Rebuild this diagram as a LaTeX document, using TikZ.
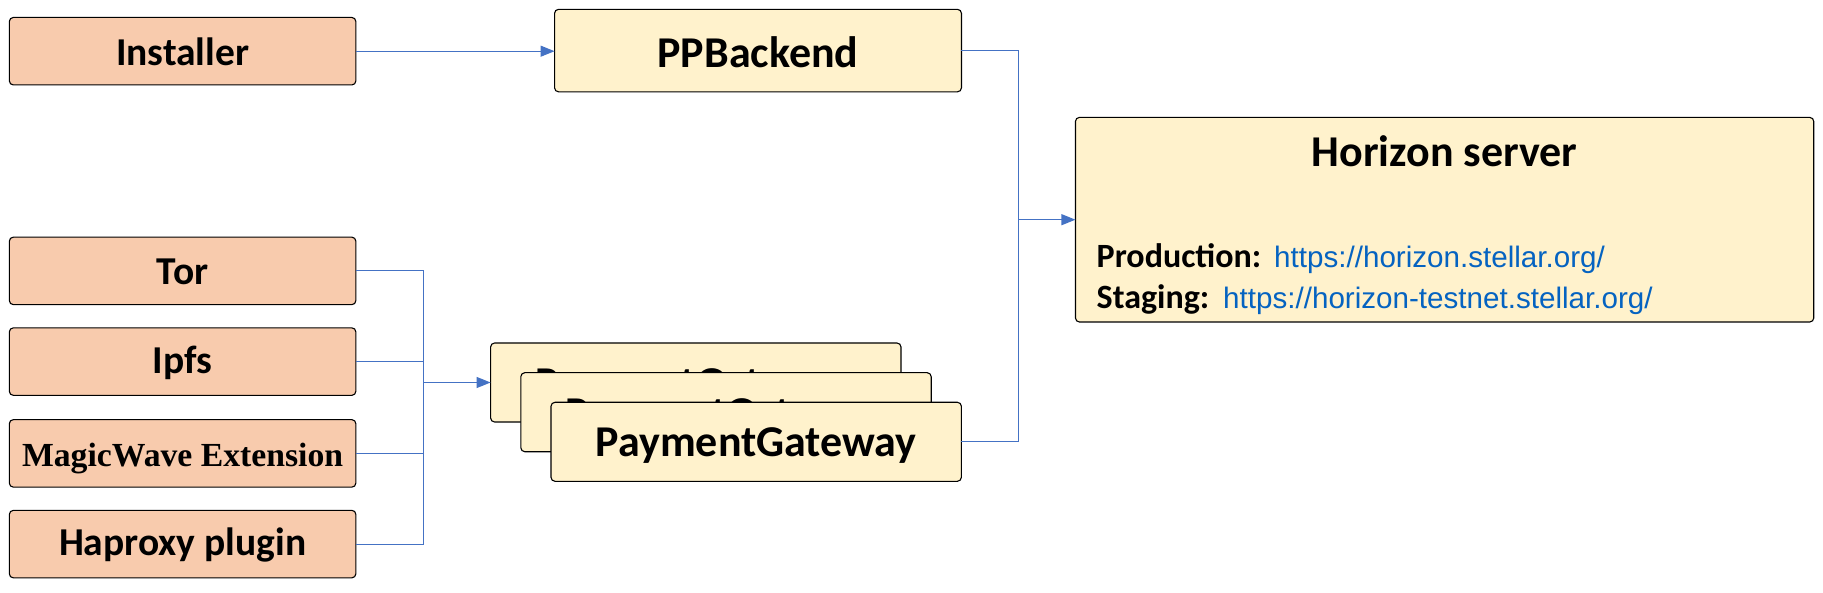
\documentclass[tikz,border=0pt]{standalone}
\usepackage{fontspec}
\setmainfont{Carlito}
\newfontfamily\timesfont{Liberation Serif}
\newfontfamily\arialfont{Liberation Sans}
\usetikzlibrary{arrows.meta}
\definecolor{orfill}{HTML}{F8CBAD}
\definecolor{yefill}{HTML}{FFF2CC}
\definecolor{connblue}{HTML}{4472C4}
\definecolor{urlc}{HTML}{0563C1}
\newcommand{\lowr}[2][4pt]{\raisebox{-#1}[\height][\depth]{#2}}
\begin{document}
\begin{tikzpicture}[x=1pt,y=-1pt,
 box/.style={draw=black, line width=1.1pt, rounded corners=4pt, inner sep=0pt, outer sep=0pt},
 orbox/.style={box, fill=orfill, minimum width=346.5pt, minimum height=67.5pt, font=\fontsize{39.5}{44}\selectfont\bfseries},
 yebox/.style={box, fill=yefill, font=\fontsize{44}{50}\selectfont\bfseries},
 pgbox/.style={yebox, minimum width=410.4pt, minimum height=79pt},
 conn/.style={draw=connblue, line width=1.1pt},
 arr/.style={conn, -{Triangle[length=14pt,width=11pt]}},
 lbl/.style={anchor=base west, inner sep=0pt, font=\fontsize{34}{40}\selectfont\bfseries},
 url/.style={anchor=base west, inner sep=0pt, text=urlc, font=\arialfont\fontsize{29.6}{34}\selectfont}]
\useasboundingbox (0,0) rectangle (1823,593);
% left boxes
\node[orbox] (inst) at (182.6,51.2) {\lowr[1pt]{Installer}};
\node[orbox] (tor) at (182.6,270.9) {\lowr[1pt]{Tor}};
\node[orbox] (ipfs) at (182.6,361.6) {\lowr[1pt]{Ipfs}};
\node[orbox, font=\timesfont\fontsize{33.7}{38}\selectfont\bfseries] (mw) at (182.6,453.4) {\lowr[5pt]{MagicWave Extension}};
\node[orbox] (hap) at (182.6,544.1) {\lowr[1pt]{Haproxy plugin}};
% PPBackend
\node[yebox, minimum width=406.9pt, minimum height=82.5pt] (ppb) at (758,50.6) {\lowr[1.5pt]{PPBackend}};
% PaymentGateway stack
\node[pgbox] (pg3) at (695.8,382.5) {\lowr{PaymentGateway}};
\node[pgbox] (pg2) at (726,412.2) {\lowr{PaymentGateway}};
\node[pgbox] (pg1) at (756.2,441.8) {\lowr{PaymentGateway}};
% Horizon
\node[yebox, minimum width=738.3pt, minimum height=204.6pt] (hz) at (1444.6,219.7) {};
\node[anchor=base, inner sep=0pt, font=\fontsize{44}{50}\selectfont\bfseries] (htitle) at (1444.6,166.5) {Horizon server};
\node[lbl] (prodl) at (1096.5,267.5) {Production:};
\node[url] (produ) at (1274,267.5) {https://horizon.stellar.org/};
\node[lbl] (stagl) at (1096.5,308.7) {Staging:};
\node[url] (stagu) at (1223,308.7) {https://horizon-testnet.stellar.org/};
% connectors
\coordinate (lb) at (423.2,0);
\coordinate (rb) at (1018.4,0);
\draw[arr] (inst.east) -- (inst.east -| ppb.west);
\draw[conn] (tor.east) -- (tor.east -| lb) -- (hap.east -| lb) -- (hap.east);
\draw[conn] (ipfs.east) -- (ipfs.east -| lb);
\draw[conn] (mw.east) -- (mw.east -| lb);
\draw[arr] (pg3.west -| lb) -- (pg3.west);
\draw[conn] (ppb.east) -- (ppb.east -| rb) -- (pg1.east -| rb) -- (pg1.east);
\draw[arr] (hz.west -| rb) -- (hz.west);
\end{tikzpicture}
\end{document}
